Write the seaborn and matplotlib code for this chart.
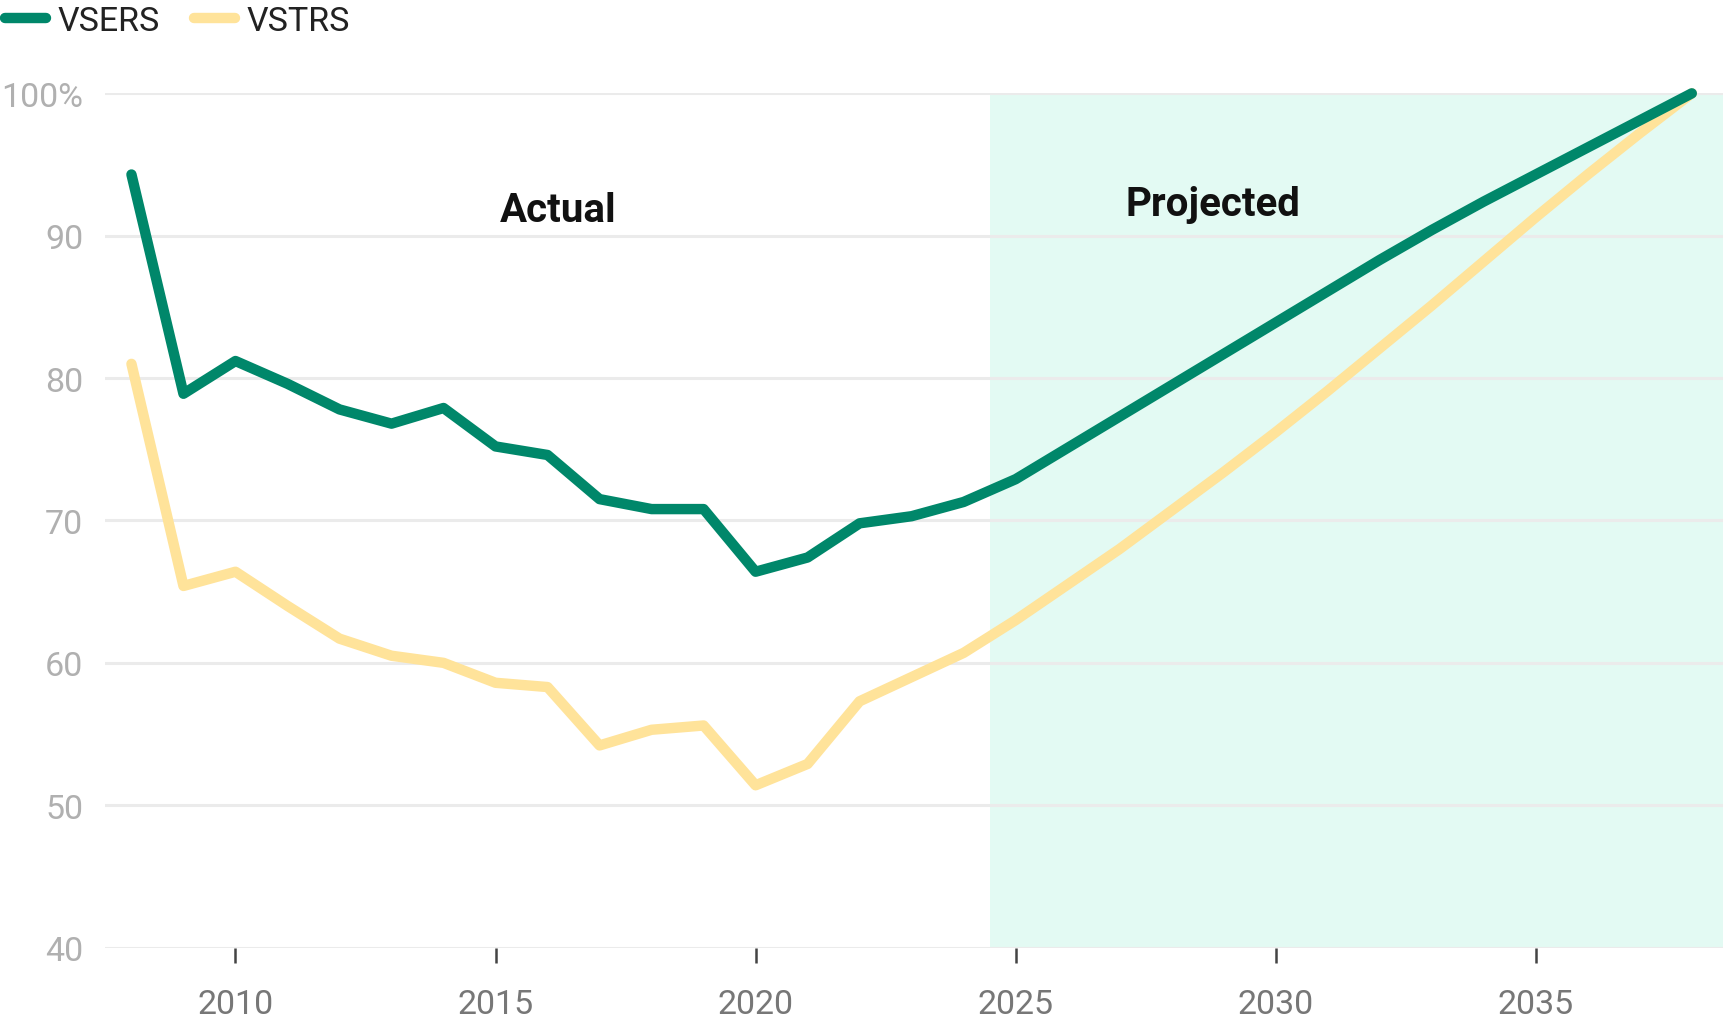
import matplotlib
matplotlib.use("Agg")
import matplotlib.pyplot as plt
import seaborn as sns
import pandas as pd

# Datos
years = list(range(2008, 2039))
vsers = [94.3, 78.9, 81.2, 79.6, 77.8, 76.8, 77.9, 75.2, 74.6, 71.5, 70.8,
         70.8, 66.4, 67.4, 69.8, 70.3, 71.3, 72.9, 75.1, 77.3, 79.5, 81.7,
         83.9, 86.1, 88.3, 90.4, 92.4, 94.3, 96.2, 98.1, 100.0]
vstrs = [81.0, 65.4, 66.4, 64.0, 61.7, 60.5, 60.0, 58.6, 58.3, 54.2, 55.3,
         55.6, 51.4, 52.9, 57.3, 59.0, 60.7, 63.0, 65.5, 68.0, 70.7, 73.4,
         76.2, 79.1, 82.1, 85.1, 88.2, 91.3, 94.3, 97.2, 100.0]
series_names = ["VSERS", "VSTRS"]
y_ticks = [40, 50, 60, 70, 80, 90, 100]
y_tick_labels = ["40", "50", "60", "70", "80", "90", "100%"]
x_ticks = [2010, 2015, 2020, 2025, 2030, 2035]
projection_start = 2024.5

COLORS = {"VSERS": "#00876A", "VSTRS": "#FFE39A"}

df = pd.DataFrame({
    "year": years * 2,
    "value": vsers + vstrs,
    "series": ["VSERS"] * len(years) + ["VSTRS"] * len(years),
})

sns.set_theme(style="white")
plt.rcParams["font.family"] = ["Roboto", "DejaVu Sans"]

fig = plt.figure(figsize=(17.23, 10.20), dpi=100)
ax = fig.add_axes([0.0612, 0.070, 0.9388, 0.8375])

ax.set_xlim(2007.5, 2038.6)
ax.set_ylim(40, 100)

# Zona proyectada
ax.axvspan(projection_start, 2040, color="#E3FAF3", zorder=0, lw=0)

# Líneas de grilla horizontales
for t in y_ticks:
    ax.axhline(t, color="#EBEBEB", lw=2.2, zorder=0.5)

# VSTRS primero para que VSERS quede encima
for name in ["VSTRS", "VSERS"]:
    sub = df[df["series"] == name]
    sns.lineplot(data=sub, x="year", y="value", ax=ax, color=COLORS[name],
                 linewidth=7.5, label=name, legend=False, clip_on=False,
                 solid_capstyle="round", solid_joinstyle="round", zorder=3)

ax.text(2016.2, 91.8, "Actual", ha="center", va="center", fontsize=29,
        fontweight="bold", color="#111111")
ax.text(2028.8, 92.2, "Projected", ha="center", va="center", fontsize=29,
        fontweight="bold", color="#111111")

ax.set_yticks(y_ticks)
ax.set_yticklabels(y_tick_labels)
ax.set_xticks(x_ticks)
ax.tick_params(axis="y", length=0, pad=16, labelsize=24.5, labelcolor="#B0B0B0")
ax.tick_params(axis="x", length=11, width=1.8, color="#444444", pad=18,
               labelsize=24.5, labelcolor="#777777", direction="out", bottom=True)
ax.set_xlabel("")
ax.set_ylabel("")
for s in ax.spines.values():
    s.set_visible(False)

handles = [plt.Line2D([], [], color=COLORS[n], lw=7.5, solid_capstyle="round")
           for n in series_names]
fig.legend(handles, series_names, loc="upper left", bbox_to_anchor=(0.003, 0.994),
           ncol=2, frameon=False, fontsize=24.5, handlelength=1.2,
           handletextpad=0.35, columnspacing=1.0, borderpad=0, borderaxespad=0,
           labelcolor="#222222")

fig.savefig("out.png", dpi=100)
